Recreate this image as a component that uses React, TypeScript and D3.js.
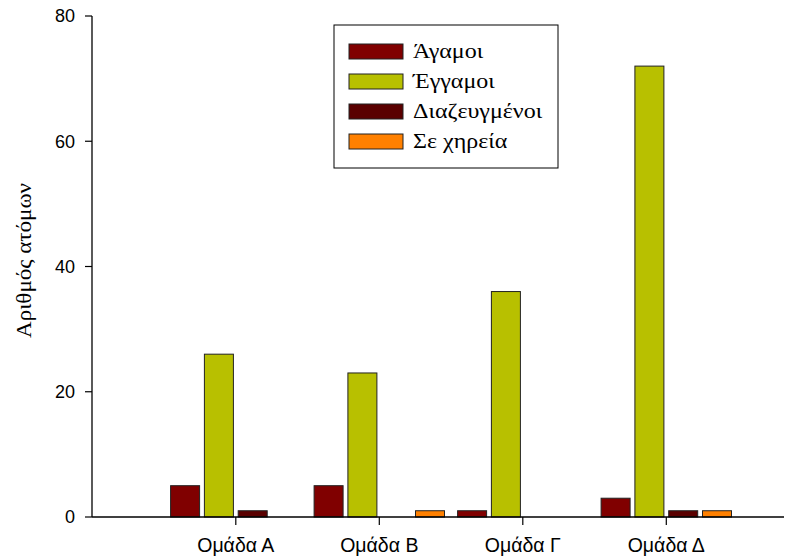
import React from "react";
import * as d3 from "d3";

const categories = ["Ομάδα Α", "Ομάδα Β", "Ομάδα Γ", "Ομάδα Δ"];
const seriesNames = ["Άγαμοι", "Έγγαμοι", "Διαζευγμένοι", "Σε χηρεία"];
const agamoi = [5, 5, 1, 3];
const eggamoi = [26, 23, 36, 72];
const diazeugmenoi = [1, 0, 0, 1];
const seChireia = [0, 1, 0, 1];
const seriesValues = [agamoi, eggamoi, diazeugmenoi, seChireia];
const seriesColors = ["#800000", "#b8c000", "#5a0000", "#ff8000"];
const yTicks = [0, 20, 40, 60, 80];

const W = 799;
const H = 560;
const left = 92;
const right = 784;
const top = 16;
const bottom = 517;
const SANS = "'Liberation Sans', Arial, sans-serif";
const SERIF = "'Liberation Serif', 'Times New Roman', serif";

export default function App() {
  const y = d3.scaleLinear().domain([0, 80]).range([bottom, top]);
  const x = d3
    .scalePoint<string>()
    .domain(categories)
    .range([235.8, 666.3]);
  const slot = 33.8;
  const barW = 29;
  const sub = d3
    .scaleBand<number>()
    .domain([0, 1, 2, 3])
    .range([-2 * slot, 2 * slot])
    .paddingInner(0);

  return (
    <svg
      width={W}
      height={H}
      style={{ position: "absolute", left: 0, top: 0, background: "#fff" }}
    >
      {categories.map((c, ci) =>
        seriesValues.map((vals, si) => {
          const v = vals[ci];
          if (v <= 0) return null;
          const x0 = (x(c) as number) + (sub(si) as number) + (slot - barW) / 2;
          return (
            <rect
              key={c + si}
              x={x0}
              y={y(v)}
              width={barW}
              height={y(0) - y(v)}
              fill={seriesColors[si]}
              stroke="#222"
              strokeWidth={1}
            />
          );
        })
      )}

      <line x1={left} x2={left} y1={top} y2={bottom} stroke="#000" strokeWidth={1.3} />
      {yTicks.map((t) => (
        <g key={t}>
          <line x1={left - 7} x2={left} y1={y(t)} y2={y(t)} stroke="#000" strokeWidth={1.2} />
          <text
            x={left - 17}
            y={y(t)}
            dy="0.35em"
            textAnchor="end"
            style={{ fontFamily: SANS, fontSize: "18px" }}
            fill="#000"
          >
            {t}
          </text>
        </g>
      ))}
      <text
        transform={`translate(31, ${(183 + 338) / 2}) rotate(-90)`}
        textAnchor="middle"
        textLength={155}
        lengthAdjust="spacingAndGlyphs"
        style={{ fontFamily: SERIF, fontSize: "22px" }}
        fill="#000"
      >
        Αριθμός ατόμων
      </text>

      <line x1={left} x2={right} y1={bottom} y2={bottom} stroke="#000" strokeWidth={1.3} />
      {categories.map((c) => (
        <g key={c}>
          <line
            x1={x(c)}
            x2={x(c)}
            y1={bottom}
            y2={bottom + 8}
            stroke="#000"
            strokeWidth={1.2}
          />
          <text
            x={x(c)}
            y={552}
            textAnchor="middle"
            style={{ fontFamily: SANS, fontSize: "19.5px" }}
            fill="#000"
          >
            {c}
          </text>
        </g>
      ))}

      <rect x={334} y={25} width={224} height={143} fill="#fff" stroke="#000" strokeWidth={1} />
      {seriesNames.map((n, i) => (
        <g key={n}>
          <rect
            x={349}
            y={44 + i * 30}
            width={54}
            height={15}
            fill={seriesColors[i]}
            stroke="#222"
            strokeWidth={1}
          />
          <g transform={`translate(413, ${58 + i * 30}) scale(1.2, 1)`}>
            <text
              x={0}
              y={0}
              style={{ fontFamily: SERIF, fontSize: "20px" }}
              fill="#000"
            >
              {n}
            </text>
          </g>
        </g>
      ))}
    </svg>
  );
}
